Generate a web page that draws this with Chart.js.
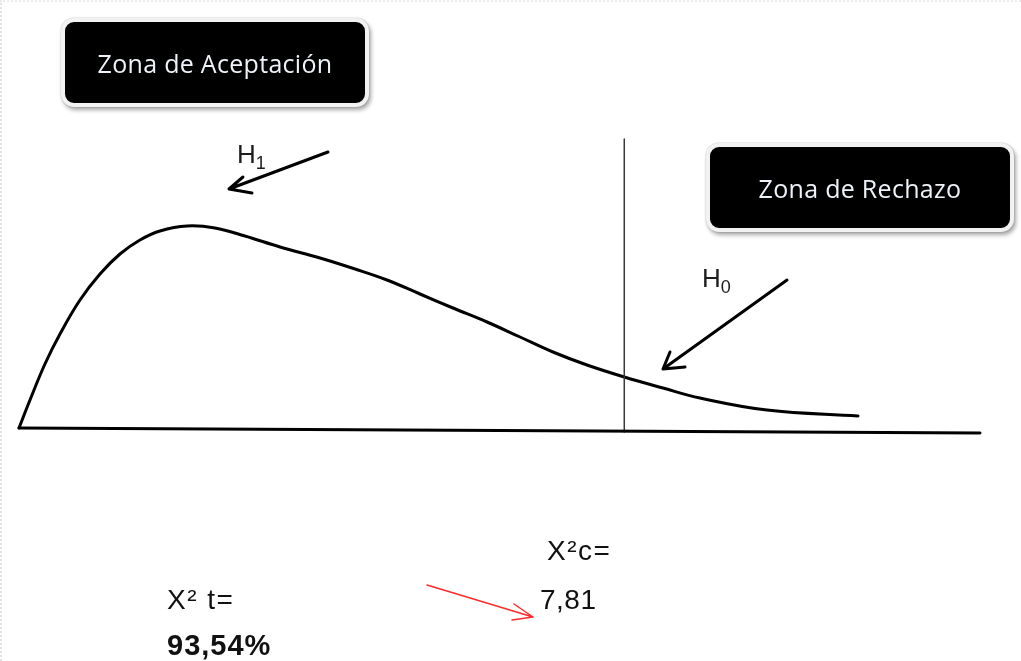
<!DOCTYPE html>
<html lang="es">
<head>
<meta charset="utf-8">
<title>Zona de Aceptación / Rechazo</title>
<script src="https://cdn.jsdelivr.net/npm/chart.js@4.4.1/dist/chart.umd.min.js"></script>
<style>
  html, body { margin: 0; padding: 0; background: #fff; }
  #wrap { position: relative; width: 1021px; height: 661px; overflow: hidden; }
  #wrap::before {
    content: ''; position: absolute; left: 0; top: 0; right: 0; bottom: 0;
    border-left: 2px dotted #e2e2e2; border-top: 2px dotted #ececec; pointer-events: none;
  }
  #chart { position: absolute; left: 0; top: 0; }

  /* black rounded boxes */
  .zona {
    position: absolute; width: 300px; height: 81px; box-sizing: content-box;
    background: #000; border: 4px solid #f2f2f2; border-radius: 13px;
    box-shadow: 2px 3px 4px rgba(0,0,0,.35), 0 0 2px rgba(0,0,0,.25);
    color: #eef3fa; font: 25px "Open Sans", "Noto Sans", sans-serif; letter-spacing: 0.3px;
    display: flex; align-items: center; justify-content: center;
  }
  #zonaAcep { left: 61px; top: 18px; }
  #zonaRech { left: 706px; top: 143px; }

  .lbl {
    position: absolute; white-space: nowrap; color: #111;
    font-family: "Liberation Sans", Arial, sans-serif; font-size: 28px; line-height: 28px;
  }
  .lbl.h { font-size: 26px; line-height: 26px; color: #1c1c1c; }
  .lbl.h sub { font-size: 18px; vertical-align: -6px; line-height: 0; }
  #h1 { left: 237px; top: 141px; }
  #h0 { left: 702px; top: 265px; }
  #x2c { left: 547px; top: 537px; letter-spacing: 1.5px; }
  #x2t { left: 167px; top: 586px; letter-spacing: 1.5px; }
  #val { left: 540px; top: 586px; letter-spacing: 0.5px; }
  #pct { left: 167px; top: 631px; font-size: 29px; font-weight: bold; letter-spacing: 1px; }
</style>
</head>
<body>
<div id="wrap">
  <canvas id="chart" width="1021" height="661"></canvas>
  <div class="zona" id="zonaAcep">Zona de Aceptación</div>
  <div class="zona" id="zonaRech">Zona de Rechazo</div>
  <div class="lbl h" id="h1">H<sub>1</sub></div>
  <div class="lbl h" id="h0">H<sub>0</sub></div>
  <div class="lbl" id="x2c">X²c=</div>
  <div class="lbl" id="x2t">X² t=</div>
  <div class="lbl" id="val">7,81</div>
  <div class="lbl" id="pct">93,54%</div>
</div>

<script>
// ── Data (x = chi-square value, y = density) ──────────────────────────────────

const CRITICAL = 7.81;

// hand-drawn chi-square curve
const curveX = [0, 0.142, 0.335, 0.529, 0.787, 1.045, 1.303, 1.561, 1.819, 2.168,
  2.529, 2.916, 3.368, 3.884, 4.335, 4.748, 5.174, 5.600, 6.039, 6.465,
  6.890, 7.329, 7.810, 8.310, 8.787, 9.652, 10.826];
const curveY = [0, 0.028, 0.064, 0.094, 0.128, 0.154, 0.174, 0.188, 0.197, 0.202,
  0.200, 0.192, 0.181, 0.170, 0.159, 0.148, 0.134, 0.120, 0.106, 0.091,
  0.076, 0.063, 0.051, 0.040, 0.030, 0.018, 0.012];

// horizontal axis (slightly tilted, as drawn)
const axisX = [0, 12.40];
const axisY = [0, -0.005];

// critical value line
const critX = [CRITICAL, CRITICAL];
const critY = [0.289, -0.004];

// arrows: start -> tip -> head -> tip -> head
const arrowH1X = [3.987, 2.710, 2.890, 2.710, 3.006];
const arrowH1Y = [0.276, 0.239, 0.251, 0.239, 0.235];

const arrowH0X = [9.910, 8.310, 8.400, 8.310, 8.594];
const arrowH0Y = [0.148, 0.059, 0.076, 0.059, 0.061];

const arrowRedX = [5.265, 6.632, 6.387, 6.632, 6.361];
const arrowRedY = [-0.157, -0.189, -0.176, -0.189, -0.192];

// ── Chart ─────────────────────────────────────────────────────────────────────

const pts = (xs, ys) => xs.map((x, i) => ({ x, y: ys[i] }));

function lineSet(xs, ys, color, width, extra) {
  return Object.assign({
    data: pts(xs, ys),
    borderColor: color,
    borderWidth: width,
    pointRadius: 0,
    showLine: true,
    tension: 0,
    borderCapStyle: 'round',
    borderJoinStyle: 'round',
    clip: false,
  }, extra || {});
}

new Chart(document.getElementById('chart'), {
  type: 'scatter',
  data: {
    datasets: [
      lineSet(axisX, axisY, '#000', 3),
      lineSet(critX, critY, '#3a3a3a', 1.5, { borderCapStyle: 'butt' }),
      lineSet(curveX, curveY, '#000', 3, { tension: 0.4 }),
      lineSet(arrowH1X, arrowH1Y, '#000', 3),
      lineSet(arrowH0X, arrowH0Y, '#000', 3),
      lineSet(arrowRedX, arrowRedY, '#ff2a2a', 1.5),
    ],
  },
  options: {
    responsive: false,
    animation: false,
    events: [],
    layout: { padding: 0 },
    plugins: { legend: { display: false }, tooltip: { enabled: false } },
    scales: {
      x: { type: 'linear', min: -0.245, max: 12.929, display: false },
      y: { type: 'linear', min: -0.233, max: 0.428, display: false },
    },
  },
});
</script>
</body>
</html>
